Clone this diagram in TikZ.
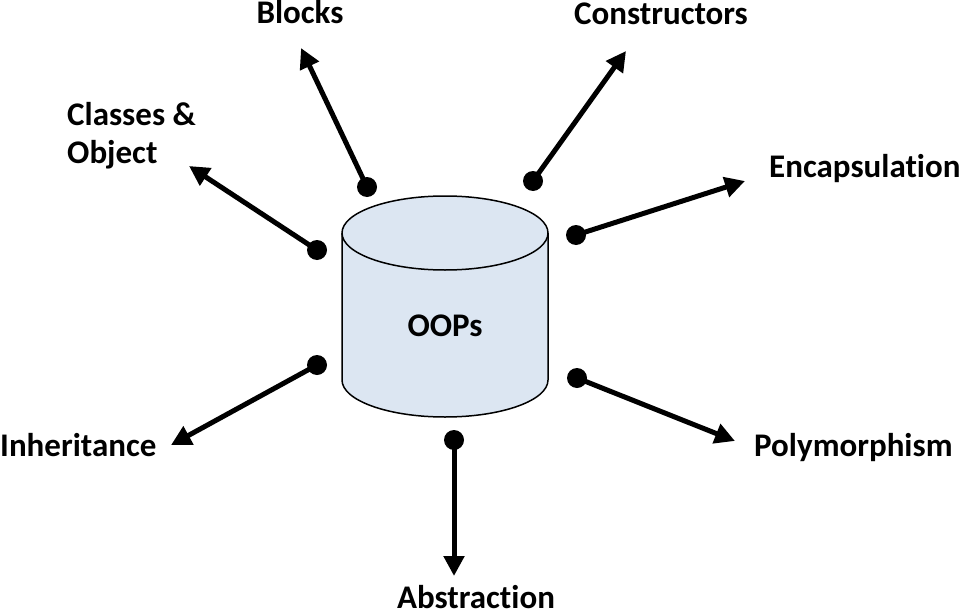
\documentclass[tikz,border=0pt]{standalone}
\usepackage{fontspec}
\setmainfont{Carlito}[Ligatures=NoCommon]
\usetikzlibrary{arrows.meta}
\definecolor{cylfill}{HTML}{DCE6F2}
\tikzset{
  dotnode/.style={circle, fill=black, inner sep=0pt, minimum size=20pt},
  arr/.style={line width=5pt, -{Triangle[length=20pt,width=20pt]}, shorten <=0pt},
  lbl/.style={font=\fontsize{33}{39}\selectfont\bfseries, inner sep=0pt, text=black},
}
\begin{document}
\begin{tikzpicture}[x=1pt,y=-1pt]
\useasboundingbox (0,0) rectangle (960,615);
% cylinder
\filldraw[fill=cylfill, draw=black, line width=1.5pt]
  (342,233) -- (342,380) arc[start angle=180,end angle=360,x radius=103pt,y radius=37pt]
  -- (548,233) arc[start angle=0,end angle=180,x radius=103pt,y radius=37pt] -- cycle;
\draw[line width=1.5pt] (342,233) arc[start angle=180,end angle=360,x radius=103pt,y radius=37pt];
\node[lbl, anchor=base] (oops) at (445,336) {OOPs};
% dots
\node[dotnode] (dB) at (367,187) {};
\node[dotnode] (dC) at (533,181) {};
\node[dotnode] (dO) at (317,250) {};
\node[dotnode] (dE) at (576,235) {};
\node[dotnode] (dI) at (317,365) {};
\node[dotnode] (dP) at (577,378) {};
\node[dotnode] (dA) at (454,440) {};
% tips
\coordinate (tB) at (301,48);
\coordinate (tC) at (626,51);
\coordinate (tO) at (189,166);
\coordinate (tE) at (745,181);
\coordinate (tI) at (171,445);
\coordinate (tP) at (735,441);
\coordinate (tA) at (454,576);
\foreach \n in {B,C,O,E,I,P,A}{\draw[arr] (d\n.center) -- (t\n);}
% labels
\node[lbl, anchor=base] (lB) at (300,24) {Blocks};
\node[lbl, anchor=base] (lC) at (661,25) {Constructors};
\node[lbl, anchor=base west] (lO1) at (67,125) {Classes \&};
\node[lbl, anchor=base west] (lO2) at (67,163) {Object};
\node[lbl, anchor=base west] (lE) at (769,177) {Encapsulation};
\node[lbl, anchor=base west] (lI) at (0,456) {Inheritance};
\node[lbl, anchor=base west] (lP) at (754,456) {Polymorphism};
\node[lbl, anchor=base] (lA) at (476,608) {Abstraction};
\end{tikzpicture}
\end{document}
